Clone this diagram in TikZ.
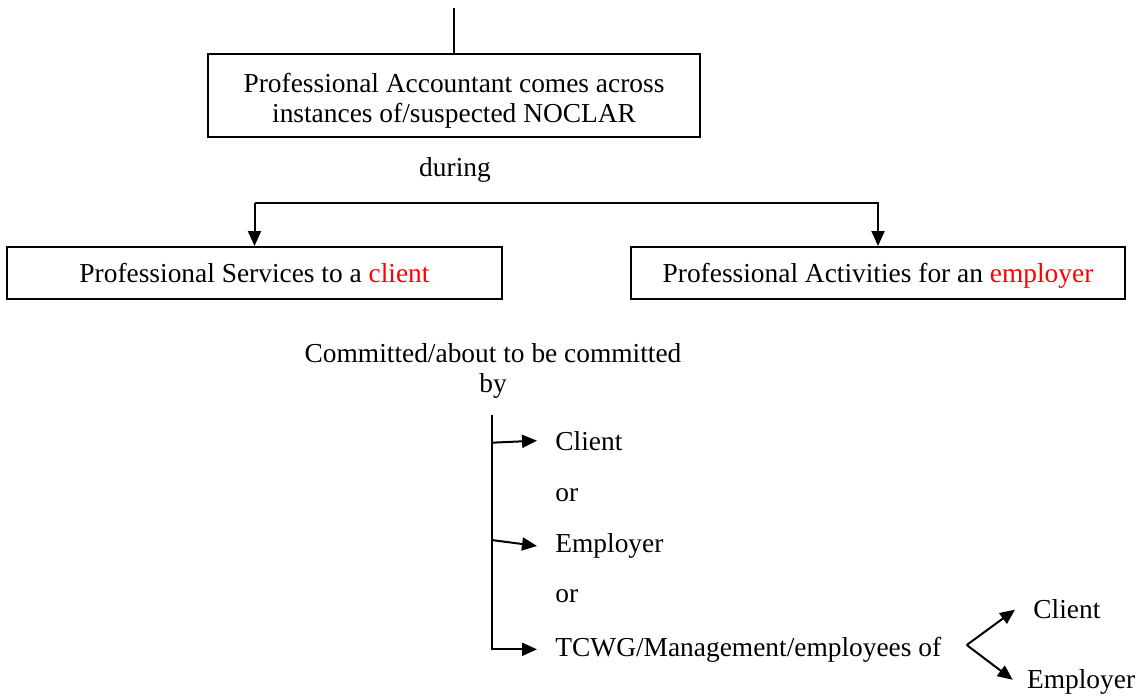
\documentclass[tikz,border=0pt]{standalone}
\usepackage{fontspec}
\setmainfont{Liberation Serif}
\usetikzlibrary{arrows.meta}
\begin{document}
\begin{tikzpicture}[x=0.5pt,y=-0.5pt,
  every node/.style={font=\fontsize{13.7}{15}\selectfont},
  box/.style={draw, line width=1pt, align=center, inner sep=0pt},
  onebox/.style={box, minimum height=26pt, text height=9.5pt, text depth=0pt},
  lbl/.style={inner sep=0pt, align=center},
  item/.style={inner sep=0pt, anchor=base west},
  link/.style={line width=1pt},
  arr/.style={link, -{Triangle[length=7.5pt,width=6.5pt]}},
]
\useasboundingbox (0,0) rectangle (1143,698);

% main boxes
\node[box, minimum width=246pt, minimum height=41.5pt,
      text height=30.4pt, text depth=3.9pt] (pa) at (454,95.5)
  {Professional Accountant comes across\\instances of/suspected NOCLAR};
\node[lbl] (during) at (455,170) {during};
\node[onebox, minimum width=247.5pt] (svc) at (254.5,273)
  {Professional Services to a \textcolor{red}{client}};
\node[onebox, minimum width=247pt] (act) at (878,273)
  {Professional Activities for an \textcolor{red}{employer}};
\node[lbl] (by) at (493,371) {Committed/about to be committed\\by};

% lead-in line and split to the two boxes
\coordinate (top) at (454,8);
\draw[link] (top) -- (pa.north);
\coordinate (bar) at (0,203);
\draw[arr] (svc.north |- bar) -- (act.north |- bar) -- (act.north);
\draw[arr] (svc.north |- bar) -- (svc.north);

% list of parties
\node[item] (cl)  at (555,450)   {Client};
\node[item] (or1) at (555,501.5) {or};
\node[item] (em)  at (555,552.5) {Employer};
\node[item] (or2) at (555,602.5) {or};
\node[item] (tc)  at (555,656)   {TCWG/Management/employees of};

\coordinate (t0) at (491.7,415);
\coordinate (t1) at (491.7,442.7);
\coordinate (t2) at (491.7,540);
\draw[arr] (t0) -- (t0 |- tc.west) -- ([xshift=-9pt]tc.west);
\draw[arr] (t1) -- ([xshift=-9pt]cl.west);
\draw[arr] (t2) -- ([xshift=-9pt]em.west);

% fork to client / employer
\node[item] (rcl) at (1033,618)   {Client};
\node[item] (rem) at (1026.7,688) {Employer};
\coordinate (fork) at (966.7,645);
\draw[arr] (fork) -- ([shift={(-18,1)}]rcl.west);
\draw[arr] (fork) -- ([shift={(-14,-1.7)}]rem.west);
\end{tikzpicture}
\end{document}
